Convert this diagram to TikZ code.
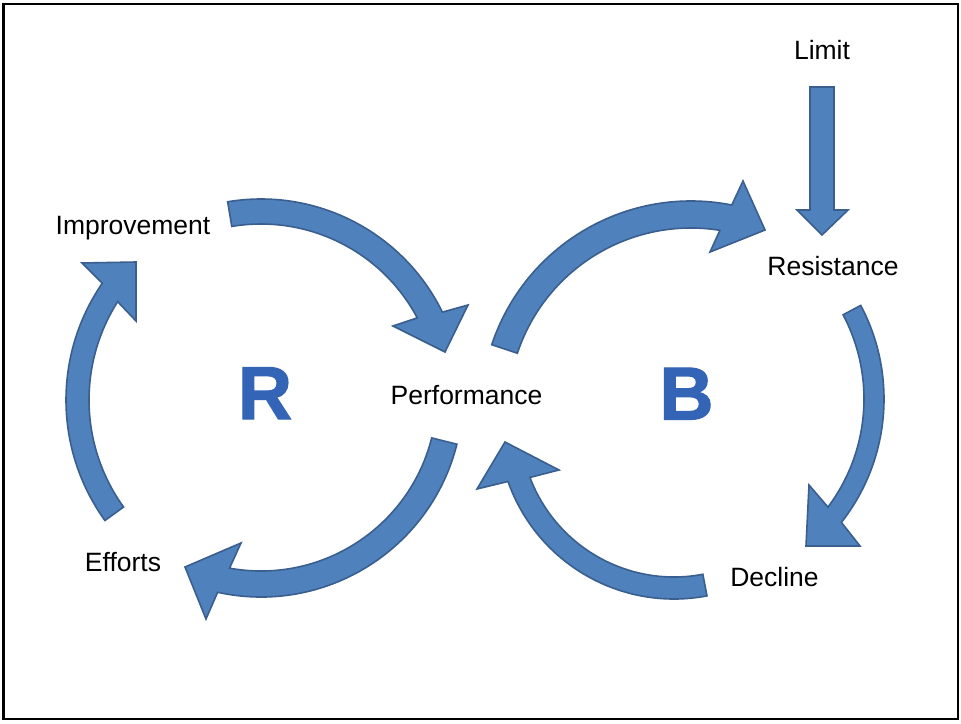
\documentclass[tikz,border=0pt]{standalone}
\usepackage{fontspec}
\setmainfont{Liberation Sans}
\newfontfamily\heavyfont[FakeBold=1.6]{Liberation Sans Bold}
\usetikzlibrary{calc}
\definecolor{arrowfill}{HTML}{4F81BD}
\definecolor{arrowline}{HTML}{3A5F8E}
\definecolor{letterblue}{HTML}{3464B6}
\tikzset{
  blockarrow/.style={fill=arrowfill, draw=arrowline, line width=1.6pt},
  lbl/.style={font=\fontsize{26.5}{31}\selectfont, anchor=base, inner sep=0pt},
  bigletter/.style={font=\fontsize{75}{80}\heavyfont, text=letterblue, anchor=base, inner sep=0pt},
  frame/.style={line width=2.5pt, draw=black},
}
\begin{document}
\begin{tikzpicture}[x=1pt,y=-1pt]
\useasboundingbox (0,0) rectangle (961,723);
\fill[white] (0,0) rectangle (961,723);
\draw[frame] (3.5,4) rectangle (958,719);

% text nodes
\node[lbl] (limit) at (822,59) {Limit};
\node[lbl] (improvement) at (133,234) {Improvement};
\node[lbl] (resistance) at (833,275) {Resistance};
\node[lbl] (performance) at (466.5,404) {Performance};
\node[lbl] (efforts) at (123,571) {Efforts};
\node[lbl] (decline) at (774.5,586) {Decline};
\node[bigletter] (R) at (265,419) {R};
\node[bigletter] (B) at (686.5,419.5) {B};

% loop centres
\coordinate (c1) at (261,401);
\coordinate (c2) at (691,411);
\coordinate (c3) at (684,399);
\coordinate (c4) at (674,423);
\coordinate (c5) at (261,395);
\coordinate (c6) at (272,400);

% Improvement -> Performance
\path[blockarrow] ($(c1)+(-99.5:202)$) arc[start angle=-99.5, end angle=-26.1, radius=202]
  -- (468,305) -- (445,352) -- (393,326) -- ($(c1)+(-28:177)$)
  arc[start angle=-28, end angle=-99.5, radius=177] -- cycle;

% Performance -> Resistance
\path[blockarrow] ($(c2)+(-161.6:210)$) arc[start angle=-161.6, end angle=-78.8, radius=210]
  -- (743,181) -- (765,230) -- (710,252) -- ($(c2)+(-80.9:183)$)
  arc[start angle=-80.9, end angle=-161.6, radius=183] -- cycle;

% Resistance -> Decline
\path[blockarrow] ($(c3)+(-27.9:200)$) arc[start angle=-27.9, end angle=38.1, radius=200]
  -- (860,546) -- (806,546) -- (809,485) -- ($(c3)+(36.9:180)$)
  arc[start angle=36.9, end angle=-27.9, radius=180] -- cycle;

% Decline -> Performance
\path[blockarrow] ($(c4)+(79.2:176)$) arc[start angle=79.2, end angle=160.6, radius=176]
  -- (477,489) -- (505,442) -- (559,470) -- ($(c4)+(159.3:154)$)
  arc[start angle=159.3, end angle=79.2, radius=154] -- cycle;

% Performance -> Efforts
\path[blockarrow] ($(c5)+(14.1:202)$) arc[start angle=14.1, end angle=102.4, radius=202]
  -- (206,619) -- (185,567) -- (241,543) -- ($(c5)+(100.3:176)$)
  arc[start angle=100.3, end angle=14.1, radius=176] -- cycle;

% Efforts -> Improvement
\path[blockarrow] ($(c6)+(144.2:206)$) arc[start angle=144.2, end angle=214.5, radius=206]
  -- (82,263) -- (136,262) -- (136,321) -- ($(c6)+(212.5:183)$)
  arc[start angle=212.5, end angle=144.2, radius=183] -- cycle;

% Limit -> Resistance
\path[blockarrow] (810,87) -- (834,87) -- (834,210) -- (848,210) -- (822,235)
  -- (797,210) -- (810,210) -- cycle;
\end{tikzpicture}
\end{document}
